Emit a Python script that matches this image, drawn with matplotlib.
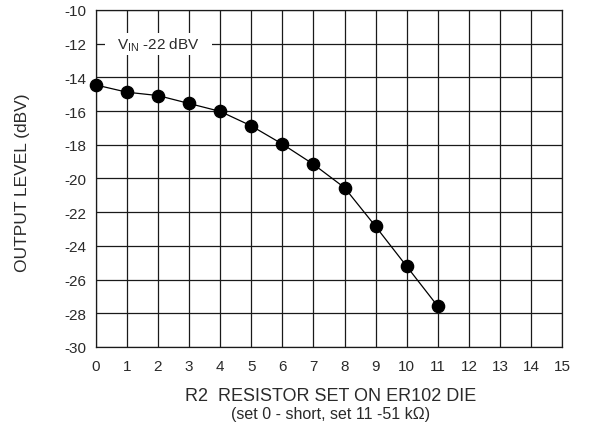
import matplotlib
matplotlib.use("Agg")
import matplotlib.pyplot as plt
from matplotlib.patches import Rectangle

plt.rcParams['font.family'] = ['Liberation Sans', 'DejaVu Sans']
plt.rcParams['axes.unicode_minus'] = False

resistor_set = [0, 1, 2, 3, 4, 5, 6, 7, 8, 9, 10, 11]
output_dbv = [-14.45, -14.88, -15.08, -15.55, -16.02, -16.88, -17.96, -19.16, -20.55, -22.85, -25.22, -27.59]
x_ticks = list(range(0, 16))
y_ticks = list(range(-30, -9, 2))

TXT = '#2a2a2a'
fig = plt.figure(figsize=(5.95, 4.31), dpi=100)
ax = fig.add_axes([0.161, 0.1926, 0.784, 0.782])
ax.set_xlim(0, 15)
ax.set_ylim(-30, -10)
ax.set_xticks(x_ticks)
ax.set_yticks(y_ticks)
ax.grid(True, color='#1a1a1a', linewidth=0.9)
ax.set_axisbelow(True)
for s in ax.spines.values():
    s.set_color('#1a1a1a')
    s.set_linewidth(0.9)
ax.tick_params(length=0, labelsize=11, colors=TXT)
ax.tick_params(axis='x', pad=9)
ax.tick_params(axis='y', pad=7)

ax.plot(resistor_set, output_dbv, color='black', linewidth=0.9, marker='o',
        markersize=8.8, markerfacecolor='black', markeredgecolor='black', clip_on=False, zorder=3)

ax.add_patch(Rectangle((0.29, -12.65), 3.44, 1.3, facecolor='white', edgecolor='none', zorder=1))
ax.text(2.0, -12, r'V$_{\mathregular{IN}}$ -22 dBV', ha='center', va='center', fontsize=11,
        color=TXT, zorder=4)

ax.set_ylabel('OUTPUT LEVEL (dBV)', fontsize=12.5, color=TXT)
ax.yaxis.set_label_coords(-0.142, 0.49)
fig.text(0.555, 1 - 397 / 431, 'R2  RESISTOR SET ON ER102 DIE', ha='center', va='center', fontsize=13, color=TXT)
fig.text(0.555, 1 - 415 / 431, '(set 0 - short, set 11 -51 k\u03a9)', ha='center', va='center', fontsize=11.5, color=TXT)

fig.savefig('out.png', dpi=100)
